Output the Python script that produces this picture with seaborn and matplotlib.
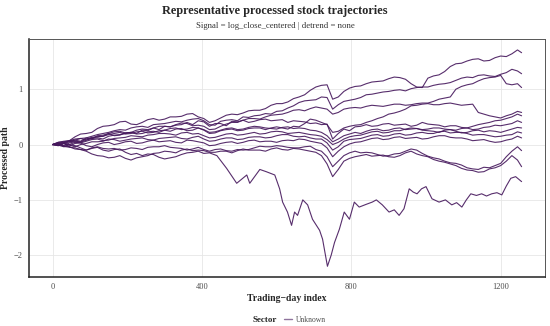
import numpy as np
import pandas as pd
import seaborn as sns
import matplotlib.pyplot as plt
from matplotlib.lines import Line2D

# trading-day grid (every 15 days) shared by the eleven ordinary paths
days = list(range(0, 1246, 15)) + [1256]

path_a = [0, 0.04, 0.05, 0.07, 0.14, 0.19, 0.2, 0.22, 0.29, 0.33,
          0.34, 0.36, 0.41, 0.42, 0.37, 0.36, 0.4, 0.45, 0.47, 0.44,
          0.46, 0.5, 0.5, 0.51, 0.55, 0.56, 0.5, 0.47, 0.4, 0.43,
          0.48, 0.53, 0.55, 0.54, 0.57, 0.61, 0.62, 0.62, 0.65, 0.71,
          0.74, 0.74, 0.77, 0.83, 0.86, 0.9, 0.98, 1.04, 1.07, 1.08,
          0.82, 0.86, 0.96, 1.02, 1.05, 1.06, 1.1, 1.13, 1.14, 1.15,
          1.19, 1.22, 1.21, 1.18, 1.1, 1.04, 1.03, 1.2, 1.24, 1.26,
          1.32, 1.41, 1.46, 1.47, 1.51, 1.54, 1.55, 1.51, 1.52, 1.57,
          1.6, 1.59, 1.64, 1.71, 1.66]
path_b = [0, 0.01, 0.03, 0.07, 0.08, 0.06, 0.12, 0.15, 0.18, 0.2,
          0.22, 0.25, 0.27, 0.26, 0.3, 0.32, 0.33, 0.31, 0.36, 0.37,
          0.38, 0.4, 0.42, 0.41, 0.44, 0.46, 0.47, 0.43, 0.36, 0.35,
          0.42, 0.44, 0.45, 0.43, 0.5, 0.49, 0.52, 0.53, 0.56, 0.55,
          0.6, 0.61, 0.66, 0.7, 0.76, 0.79, 0.8, 0.81, 0.86, 0.85,
          0.64, 0.72, 0.78, 0.8, 0.82, 0.85, 0.9, 0.91, 0.93, 0.95,
          0.96, 0.98, 0.99, 0.97, 1.01, 1.03, 1.04, 1.04, 1.07, 1.09,
          1.1, 1.12, 1.16, 1.2, 1.22, 1.21, 1.25, 1.26, 1.24, 1.23,
          1.27, 1.3, 1.36, 1.33, 1.28]
path_c = [0, -0.02, 0.02, 0.05, 0.06, 0.05, 0.1, 0.13, 0.14, 0.15,
          0.2, 0.23, 0.24, 0.21, 0.22, 0.26, 0.28, 0.27, 0.3, 0.33,
          0.33, 0.32, 0.36, 0.39, 0.38, 0.34, 0.35, 0.33, 0.27, 0.28,
          0.33, 0.37, 0.4, 0.4, 0.44, 0.47, 0.47, 0.46, 0.5, 0.53,
          0.54, 0.55, 0.58, 0.62, 0.63, 0.61, 0.65, 0.68, 0.66, 0.64,
          0.55, 0.58, 0.64, 0.66, 0.67, 0.66, 0.69, 0.71, 0.7, 0.69,
          0.71, 0.73, 0.73, 0.71, 0.72, 0.74, 0.75, 0.75, 0.78, 0.82,
          0.84, 0.86, 1.0, 1.05, 1.08, 1.1, 1.15, 1.19, 1.21, 1.22,
          1.25, 1.1, 1.08, 1.1, 1.03]
path_d = [0, 0.02, -0.02, 0.03, 0.05, 0.04, 0.08, 0.11, 0.12, 0.1,
          0.15, 0.17, 0.18, 0.2, 0.22, 0.19, 0.2, 0.23, 0.24, 0.22,
          0.26, 0.29, 0.3, 0.27, 0.28, 0.31, 0.3, 0.26, 0.2, 0.21,
          0.25, 0.27, 0.28, 0.25, 0.26, 0.29, 0.3, 0.3, 0.27, 0.3,
          0.32, 0.3, 0.28, 0.33, 0.32, 0.38, 0.46, 0.44, 0.4, 0.36,
          0.22, 0.24, 0.3, 0.33, 0.35, 0.36, 0.4, 0.43, 0.47, 0.5,
          0.55, 0.57, 0.6, 0.64, 0.7, 0.71, 0.73, 0.74, 0.72, 0.72,
          0.74, 0.75, 0.73, 0.71, 0.72, 0.73, 0.58, 0.55, 0.52, 0.5,
          0.48, 0.52, 0.55, 0.6, 0.58]
path_e = [0, 0.03, 0.04, 0.05, 0.08, 0.11, 0.12, 0.1, 0.16, 0.17,
          0.2, 0.16, 0.17, 0.21, 0.22, 0.2, 0.26, 0.25, 0.3, 0.27,
          0.33, 0.32, 0.35, 0.36, 0.4, 0.36, 0.43, 0.41, 0.33, 0.38,
          0.38, 0.34, 0.42, 0.41, 0.44, 0.4, 0.42, 0.45, 0.46, 0.43,
          0.44, 0.45, 0.4, 0.43, 0.42, 0.41, 0.38, 0.39, 0.36, 0.37,
          0.1, 0.2, 0.28, 0.25, 0.32, 0.33, 0.36, 0.33, 0.34, 0.37,
          0.38, 0.35, 0.36, 0.37, 0.33, 0.35, 0.4, 0.37, 0.36, 0.35,
          0.32, 0.34, 0.34, 0.31, 0.3, 0.33, 0.36, 0.38, 0.4, 0.43,
          0.44, 0.47, 0.5, 0.55, 0.52]
path_f = [0, 0.04, 0.06, 0.07, 0.1, 0.11, 0.08, 0.12, 0.14, 0.15,
          0.18, 0.2, 0.22, 0.19, 0.2, 0.23, 0.24, 0.21, 0.22, 0.25,
          0.26, 0.24, 0.28, 0.29, 0.25, 0.26, 0.3, 0.27, 0.22, 0.23,
          0.26, 0.29, 0.3, 0.27, 0.28, 0.31, 0.33, 0.32, 0.3, 0.29,
          0.28, 0.31, 0.32, 0.29, 0.3, 0.29, 0.26, 0.25, 0.22, 0.16,
          0.05, 0.1, 0.16, 0.19, 0.22, 0.2, 0.24, 0.27, 0.28, 0.25,
          0.26, 0.29, 0.3, 0.27, 0.28, 0.29, 0.27, 0.28, 0.3, 0.3,
          0.28, 0.27, 0.26, 0.29, 0.3, 0.27, 0.28, 0.31, 0.32, 0.35,
          0.34, 0.36, 0.38, 0.43, 0.4]
path_g = [0, 0.01, -0.03, 0.0, 0.04, 0.03, 0.06, 0.09, 0.1, 0.07,
          0.08, 0.11, 0.12, 0.13, 0.16, 0.15, 0.14, 0.17, 0.18, 0.2,
          0.2, 0.19, 0.17, 0.21, 0.22, 0.19, 0.2, 0.16, 0.12, 0.13,
          0.16, 0.19, 0.2, 0.17, 0.18, 0.2, 0.22, 0.19, 0.2, 0.23,
          0.24, 0.23, 0.2, 0.21, 0.22, 0.2, 0.18, 0.17, 0.15, 0.09,
          0.0, 0.04, 0.1, 0.14, 0.16, 0.17, 0.2, 0.23, 0.24, 0.21,
          0.22, 0.25, 0.25, 0.28, 0.3, 0.29, 0.26, 0.25, 0.24, 0.22,
          0.26, 0.27, 0.24, 0.21, 0.22, 0.25, 0.26, 0.23, 0.25, 0.24,
          0.22, 0.25, 0.28, 0.31, 0.3]
path_h = [0, -0.02, 0.02, -0.01, -0.04, 0.0, 0.02, 0.05, 0.05, 0.06,
          0.1, 0.09, 0.06, 0.08, 0.1, 0.11, 0.12, 0.09, 0.08, 0.11,
          0.12, 0.13, 0.14, 0.11, 0.1, 0.13, 0.15, 0.1, 0.06, 0.07,
          0.1, 0.12, 0.12, 0.09, 0.1, 0.13, 0.14, 0.14, 0.12, 0.13,
          0.16, 0.18, 0.18, 0.15, 0.14, 0.15, 0.12, 0.1, 0.1, 0.03,
          -0.1, -0.04, 0.06, 0.09, 0.1, 0.11, 0.14, 0.17, 0.18, 0.15,
          0.16, 0.19, 0.2, 0.17, 0.18, 0.21, 0.22, 0.2, 0.2, 0.23,
          0.24, 0.21, 0.22, 0.22, 0.2, 0.17, 0.18, 0.18, 0.16, 0.14,
          0.15, 0.17, 0.18, 0.23, 0.21]
path_i = [0, -0.01, -0.04, -0.03, 0.02, 0.03, -0.02, -0.04, 0.0, 0.03,
          0.04, 0.0, 0.02, 0.05, 0.06, 0.02, 0.03, 0.06, 0.08, 0.05,
          0.06, 0.07, 0.04, 0.03, 0.08, 0.07, 0.05, 0.03, -0.02, -0.01,
          0.02, 0.04, 0.05, 0.02, 0.04, 0.07, 0.08, 0.05, 0.06, 0.06,
          0.04, 0.07, 0.08, 0.07, 0.1, 0.09, 0.06, 0.04, 0.02, -0.06,
          -0.22, -0.12, -0.04, 0.01, 0.04, 0.05, 0.08, 0.11, 0.12, 0.09,
          0.1, 0.13, 0.14, 0.11, 0.12, 0.13, 0.1, 0.11, 0.14, 0.16,
          0.16, 0.13, 0.12, 0.12, 0.1, 0.07, 0.08, 0.09, 0.06, 0.04,
          0.05, 0.08, 0.1, 0.15, 0.12]
path_j = [0, 0.01, -0.03, -0.05, -0.06, -0.09, -0.1, -0.06, -0.04, -0.07,
          -0.08, -0.07, -0.1, -0.09, -0.06, -0.07, -0.09, -0.05, -0.04, -0.04,
          -0.02, -0.05, -0.06, -0.07, -0.1, -0.08, -0.05, -0.09, -0.12, -0.09,
          -0.08, -0.11, -0.12, -0.09, -0.1, -0.09, -0.06, -0.03, -0.04, -0.04,
          -0.02, -0.03, -0.05, -0.06, -0.06, -0.04, -0.03, -0.09, -0.12, -0.22,
          -0.4, -0.3, -0.2, -0.15, -0.12, -0.15, -0.14, -0.15, -0.18, -0.21,
          -0.2, -0.17, -0.16, -0.12, -0.08, -0.1, -0.16, -0.21, -0.24, -0.26,
          -0.3, -0.33, -0.34, -0.37, -0.42, -0.44, -0.45, -0.41, -0.42, -0.38,
          -0.34, -0.22, -0.12, -0.04, -0.11]
path_k = [0, -0.01, 0.02, -0.04, -0.08, -0.09, -0.12, -0.17, -0.2, -0.21,
          -0.24, -0.23, -0.2, -0.25, -0.28, -0.24, -0.22, -0.2, -0.16, -0.15,
          -0.12, -0.13, -0.15, -0.1, -0.08, -0.11, -0.1, -0.11, -0.14, -0.14,
          -0.12, -0.12, -0.15, -0.11, -0.08, -0.1, -0.1, -0.1, -0.12, -0.08,
          -0.06, -0.09, -0.1, -0.07, -0.08, -0.1, -0.12, -0.14, -0.2, -0.35,
          -0.58, -0.45, -0.3, -0.25, -0.22, -0.2, -0.18, -0.21, -0.2, -0.19,
          -0.22, -0.23, -0.2, -0.15, -0.12, -0.17, -0.2, -0.22, -0.27, -0.3,
          -0.32, -0.35, -0.38, -0.43, -0.46, -0.47, -0.5, -0.49, -0.44, -0.42,
          -0.38, -0.3, -0.2, -0.28, -0.4]

# the one path that collapses, read on its own uneven grid
crash_days = [0, 15, 30, 45, 60, 75, 90, 105, 120, 135, 150, 165, 180, 195, 210, 225, 240, 255, 270, 285,
              300, 315, 330, 345, 360, 375, 390, 405, 420,
              440, 466, 493, 520, 528, 555, 572, 595, 608, 616, 629, 640, 648, 656, 670, 683, 696, 715, 723,
              736, 746, 755, 768, 781, 795, 808, 821, 840, 856, 867, 883, 901, 915, 928, 941, 955, 966, 976, 988,
              1000, 1016, 1035, 1052, 1069, 1082, 1096, 1108, 1120, 1135, 1149, 1162, 1176, 1190, 1203, 1215,
              1227, 1240, 1256]
path_crash = [0, 0.02, 0.03, 0.0, -0.02, -0.06, -0.1, -0.07, -0.05, -0.1, -0.12, -0.09, -0.08, -0.14, -0.18,
              -0.16, -0.2, -0.17, -0.18, -0.23, -0.26, -0.24, -0.22, -0.18, -0.15, -0.14, -0.12, -0.16, -0.15,
              -0.2, -0.43, -0.7, -0.55, -0.7, -0.45, -0.49, -0.55, -0.8, -1.04, -1.22, -1.46, -1.22, -1.28, -1.0,
              -1.09, -1.35, -1.55, -1.71, -2.2, -2.0, -1.77, -1.53, -1.22, -1.35, -1.04, -1.13, -1.08, -1.04,
              -1.0, -1.09, -1.22, -1.18, -1.28, -1.16, -0.8, -0.86, -0.89, -0.8,
              -0.76, -0.98, -1.04, -1.0, -1.09, -1.05, -1.13, -1.0, -0.89, -0.92, -0.89, -0.93, -0.89, -0.87,
              -0.91, -0.75, -0.61, -0.58, -0.67]

paths = {"A": path_a, "B": path_b, "C": path_c, "D": path_d, "E": path_e, "F": path_f,
         "G": path_g, "H": path_h, "I": path_i, "J": path_j, "K": path_k}

frames = [pd.DataFrame({"day": days, "value": v, "stock": k}) for k, v in paths.items()]
frames.append(pd.DataFrame({"day": crash_days, "value": path_crash, "stock": "L"}))
df = pd.concat(frames, ignore_index=True)
df["sector"] = "Unknown"

sns.set_theme(style="whitegrid")
plt.rcParams["font.family"] = ["Liberation Serif", "DejaVu Serif"]

line_col = "#45175c"

fig, ax = plt.subplots(figsize=(5.5, 3.26), dpi=100)
fig.subplots_adjust(left=0.053, right=0.991, top=0.88, bottom=0.15)

sns.lineplot(data=df, x="day", y="value", units="stock", estimator=None, hue="sector",
             palette={"Unknown": line_col}, lw=0.8, alpha=0.9, legend=False, ax=ax)

ax.set_xticks([0, 400, 800, 1200])
ax.set_yticks([-2, -1, 0, 1])
ax.grid(True, color="#e6e6e6", lw=0.6)
ax.tick_params(axis="both", labelsize=6, colors="#4d4d4d", length=2.5, width=0.5, pad=2)
ax.set_xlabel("Trading\u2212day index", fontsize=7, fontweight="bold", labelpad=2)
ax.set_ylabel("Processed path", fontsize=7, fontweight="bold", labelpad=3)

for side in ["left", "bottom"]:
    ax.spines[side].set_color("#222222")
    ax.spines[side].set_linewidth(1.1)
for side in ["top", "right"]:
    ax.spines[side].set_color("#555555")
    ax.spines[side].set_linewidth(0.7)

fig.text(0.5, 0.965, "Representative processed stock trajectories", ha="center", va="center",
         fontsize=8.8, fontweight="bold")
fig.text(0.5, 0.921, "Signal = log_close_centered | detrend = none", ha="center", va="center",
         fontsize=6.3, color="#333333")

handle = Line2D([], [], color=line_col, alpha=0.6, lw=1.0)
leg = fig.legend([handle], ["Unknown"], loc="center", bbox_to_anchor=(0.555, 0.018), frameon=False,
                 fontsize=5.5, handlelength=1.0, handletextpad=0.6)
for t in leg.get_texts():
    t.set_color("#4d4d4d")
fig.text(0.503, 0.018, "Sector", ha="right", va="center", fontsize=6.5, fontweight="bold")

fig.savefig("out.png", dpi=100)
